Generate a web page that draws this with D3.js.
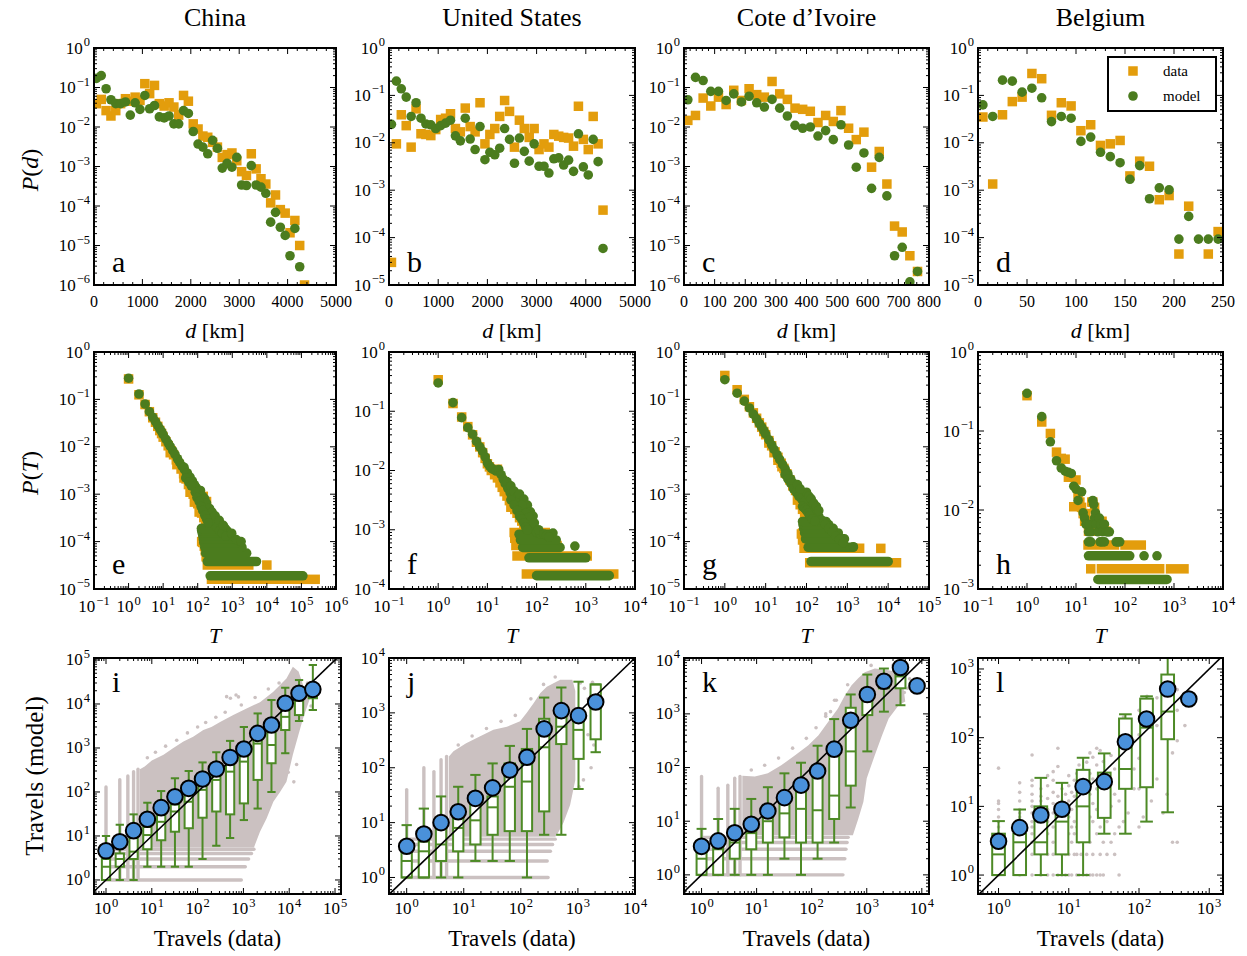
<!DOCTYPE html>
<html>
<head>
<meta charset="utf-8">
<title>Travel distance and trip distributions</title>
<script src="https://cdn.jsdelivr.net/npm/d3@7/dist/d3.min.js"></script>
<style>
  body { margin: 0; background: #fff; }
  svg text { font-family: "Liberation Serif", "DejaVu Serif", serif; fill: #000; }
</style>
</head>
<body>
<svg width="1247" height="956"></svg>
<script>
// ---------- data: row 1, P(d) ----------
const countries = ["China", "United States", "Cote d\u2019Ivoire", "Belgium"];

const dist100km = [50,150,250,350,450,550,650,750,850,950,1050,1150,1250,1350,1450,1550,1650,1750,1850,1950,2050,2150,2250,2350,2450,2550,2650,2750,2850,2950,3050,3150,3250,3350,3450,3550,3650,3750,3850,3950,4050,4150,4250,4350];
const dist25km = [12.5,37.5,62.5,87.5,112.5,137.5,162.5,187.5,212.5,237.5,262.5,287.5,312.5,337.5,362.5,387.5,412.5,437.5,462.5,487.5,512.5,537.5,562.5,587.5,612.5,637.5,662.5,687.5,712.5,737.5,762.5];
const dist10km = [5,15,25,35,45,55,65,75,85,95,105,115,125,135,145,155,165,175,185,195,205,215,225,235,245];

const pdChinaData = [0.039,0.05,0.026,0.019,0.026,0.039,0.052,0.045,0.057,0.047,0.125,0.07,0.113,0.039,0.034,0.041,0.032,0.02,0.063,0.045,0.012,0.0089,0.0059,0.0055,0.0041,0.0031,0.0017,0.002,0.0022,0.0014,0.00074,0.00059,0.0021,0.00087,0.00049,0.00036,0.00012,0.00019,8.1e-5,6.6e-5,2.1e-5,4.3e-5,1.0e-5,1.0e-6];
const pdChinaModel = [0.17,0.2,0.093,0.049,0.039,0.039,0.043,0.02,0.041,0.028,0.063,0.029,0.035,0.018,0.017,0.019,0.012,0.012,0.026,0.022,0.0077,0.0037,0.0031,0.0021,0.0046,0.0029,0.00091,0.0012,0.00096,0.0017,0.00034,0.00033,0.00105,0.00034,0.0003,0.00021,3.9e-5,6.9e-5,2.9e-5,1.8e-5,5.5e-6,2.7e-5,2.9e-6,null];
const pdUSData = [3.0e-5,0.0095,0.039,0.023,0.0081,0.052,0.0155,0.015,0.0142,0.019,0.031,0.033,0.041,0.02,0.017,0.054,0.022,0.017,0.07,0.0095,0.015,0.02,0.036,0.078,0.046,0.0081,0.03,0.02,0.013,0.02,0.0072,0.0095,0.0081,0.015,0.0138,0.013,0.0126,0.0085,0.059,0.0118,0.0072,0.036,0.0095,0.00038];
const pdUSModel = [0.0245,0.2,0.138,0.092,0.036,0.07,0.033,0.025,0.024,0.02,0.023,0.026,0.03,0.014,0.011,0.033,0.012,0.0072,0.022,0.0044,0.0063,0.0056,0.0077,0.02,0.0118,0.0037,0.0126,0.0066,0.0041,0.0095,0.0032,0.0032,0.0023,0.0046,0.0048,0.0034,0.0043,0.0025,0.0155,0.0031,0.0021,0.0118,0.004,5.9e-5];
const pdCIVData = [0.0147,0.0196,0.054,0.034,0.057,0.037,0.085,0.047,0.093,0.066,0.057,0.142,0.069,0.05,0.03,0.028,0.025,0.013,0.0196,0.0138,0.026,0.0093,0.0048,0.0074,0.00096,0.0024,0.00036,3.1e-5,2.2e-5,5.5e-6,2.2e-6];
const pdCIVModel = [0.049,0.18,0.15,0.08,0.08,0.047,0.069,0.043,0.06,0.041,0.032,0.05,0.03,0.019,0.011,0.0093,0.01,0.0059,0.0081,0.0048,0.0114,0.0035,0.00096,0.0022,0.00028,0.0017,0.00018,5.5e-6,9e-6,1.2e-6,2.2e-6];
const pdBEData = [0.035,0.00135,0.039,0.074,0.092,0.29,0.225,0.038,0.07,0.06,0.018,0.024,0.0088,0.0095,0.0112,0.002,0.0041,0.0032,0.00063,0.00077,4.5e-5,0.00046,null,4.5e-5,0.000134];
const pdBEModel = [0.063,0.036,0.21,0.2,0.117,0.142,0.089,0.028,0.036,0.033,0.0107,0.0132,0.0063,0.0051,0.0038,0.0017,0.0033,0.00066,0.00112,0.00102,9.3e-5,0.00028,9.3e-5,9.3e-5,9.3e-5];

// ---------- data: row 2, P(T) ----------
// single points [T, P]; rows of equal count [P, Tfirst, Tlast] (markers overlapping into a band)
const pTChinaData = [[1,0.27],[2,0.125],[3,0.078],[4,0.055],[5,0.041],[6,0.033],[7,0.027],[8,0.022],[9,0.019],[10,0.016],[12,0.0128],[14,0.0105],[17,0.0083],[20,0.0068],[24,0.0053],[28,0.0043],[33,0.0034],[39,0.0027],[46,0.0021],[54,0.0016],[63,0.0013],[74,0.001],[86,0.0008],[100,0.00063],[115,0.0005],[130,0.0004],[150,0.00032],[170,0.00026],[190,0.00021],[210,0.00017],[16,0.0075],[25,0.0042],[40,0.0022],[60,0.0011],[80,0.00068],[110,0.00042],[130,0.0001],[145,0.0009],[180,0.0007],[230,0.0004],[1e4,3.2e-5]];
const pTChinaModel = [[1,0.28],[2,0.13],[3,0.08],[4,0.055],[5,0.042],[6,0.034],[7,0.028],[8,0.024],[9,0.021],[10,0.018],[12,0.0145],[14,0.012],[16,0.0102],[19,0.0083],[22,0.0069],[26,0.0056],[30,0.0047],[35,0.0039],[41,0.0033],[48,0.0027],[56,0.0022],[65,0.0018],[75,0.0015],[88,0.0012],[100,0.001],[115,0.0009],[130,0.00075],[150,0.0006],[170,0.00048],[200,0.00038],[240,0.0003],[290,0.00024],[350,0.0002],[430,0.00017],[520,0.00015],[650,0.00013],[960,0.00015],[1300,0.00011],[1800,0.0001],[40,0.0037],[50,0.0028],[60,0.0023],[70,0.0019],[80,0.0016],[90,0.0014],[110,0.0011],[120,0.0012],[140,0.0009],[160,0.0008],[180,0.00065],[220,0.0005],[260,0.00042],[320,0.00035],[420,0.00028],[550,0.00022],[45,0.0022],[55,0.0018],[65,0.0015],[85,0.0011],[95,0.00085],[110,0.0007],[125,0.00055],[140,0.00045],[160,0.00036],[180,0.0003],[200,0.00025]];
const rowsChinaData = [[1.6e-5,250,5.5e4],[1.6e-5,7.5e4,2.5e5],[3.2e-5,190,3000],[4.8e-5,175,1600],[6.4e-5,165,1000],[8e-5,155,700],[9.6e-5,140,500]];
const rowsChinaModel = [[1.9e-5,230,1.1e5],[3.8e-5,190,5000],[5.7e-5,170,2600],[7.6e-5,160,1900],[9.5e-5,150,1400],[1.14e-4,145,1100],[1.33e-4,140,900],[1.52e-4,135,800],[1.71e-4,130,700],[1.9e-4,128,620]];

const pTUSData = [[1,0.34],[2,0.135],[3,0.08],[4,0.055],[5,0.04],[6,0.03],[7,0.025],[8,0.02],[9,0.016],[10,0.013],[11,0.0115],[12,0.01],[14,0.0085],[16,0.0075],[18,0.0062],[20,0.0052],[22,0.0044],[25,0.0037],[28,0.0031],[32,0.0026],[36,0.0022],[40,0.0019],[45,0.0016],[50,0.0014],[55,0.0012],[60,0.0011],[70,0.001],[80,0.00095],[16,0.0105],[20,0.0068],[26,0.0045],[30,0.0024]];
const pTUSModel = [[1,0.3],[2,0.14],[3,0.078],[4,0.053],[5,0.041],[6,0.031],[7,0.025],[8,0.021],[9,0.017],[10,0.0135],[11,0.012],[12,0.011],[13,0.0105],[15,0.0098],[17,0.0104],[19,0.0085],[21,0.0071],[23,0.006],[26,0.005],[29,0.0042],[32,0.0036],[36,0.003],[40,0.0026],[45,0.0022],[50,0.0019],[56,0.0016],[63,0.0014],[70,0.0012],[80,0.0011],[90,0.001],[100,0.0009],[120,0.00085],[215,0.00088],[600,0.00053],[25,0.0065],[30,0.0055],[35,0.0045],[40,0.0036],[45,0.004],[55,0.0033],[65,0.0026],[75,0.002],[85,0.0017],[50,0.0026],[60,0.0019],[70,0.0016],[30,0.0032],[35,0.0026],[40,0.0021],[45,0.0017],[50,0.0015],[55,0.0013],[60,0.0011],[65,0.001],[90,0.0013],[110,0.001],[140,0.00085],[160,0.0008],[180,0.00075]];
const rowsUSData = [[1.8e-4,62,3700],[3.6e-4,40,1070],[5.4e-4,38,260],[7.2e-4,36,200],[9e-4,35,150]];
const rowsUSModel = [[1.68e-4,100,3000],[3.36e-4,70,1000],[5.04e-4,52,300],[6.72e-4,47,250],[8.4e-4,44,190]];

const pTCIVData = [[1,0.32],[2,0.16],[3,0.1],[4,0.07],[5,0.052],[6,0.04],[7,0.032],[8,0.026],[9,0.021],[10,0.018],[12,0.0135],[14,0.0105],[17,0.0078],[20,0.006],[24,0.0045],[28,0.0035],[33,0.0027],[39,0.002],[46,0.0015],[54,0.0012],[63,0.0009],[74,0.0007],[86,0.00055],[100,0.00045],[115,0.00036],[130,0.0003],[12,0.012],[16,0.0075],[20,0.0052],[25,0.0038],[30,0.0028],[60,0.00075],[70,0.0006],[80,0.00048],[90,0.0004],[100,0.00035],[85,0.00012],[80,0.00015],[6600,7.2e-5]];
const pTCIVModel = [[1,0.26],[2,0.135],[3,0.092],[4,0.066],[5,0.049],[6,0.039],[7,0.031],[8,0.026],[9,0.022],[10,0.0185],[12,0.014],[14,0.011],[16,0.0088],[19,0.0068],[22,0.0054],[26,0.0042],[30,0.0034],[35,0.0027],[41,0.0021],[48,0.0017],[56,0.0014],[65,0.0012],[75,0.0011],[88,0.00095],[100,0.0008],[115,0.00068],[130,0.00058],[150,0.00048],[175,0.0004],[200,0.00034],[240,0.00028],[290,0.00023],[350,0.00019],[430,0.00016],[520,0.00013],[640,0.00011],[800,9.5e-5],[1400,7.8e-5],[30,0.0026],[35,0.0021],[41,0.0017],[48,0.0013],[56,0.0011],[65,0.0009],[75,0.0008],[88,0.0007],[100,0.0011],[115,0.0009],[130,0.0008],[150,0.00065],[175,0.00055],[200,0.00045],[60,0.0016],[70,0.0013],[80,0.00055],[90,0.0005],[100,0.00045],[110,0.0004],[120,0.00035],[140,0.0003],[160,0.00027]];
const rowsCIVData = [[3.6e-5,120,16000],[7.2e-5,87,2000],[1.08e-4,80,600],[1.44e-4,75,400]];
const rowsCIVModel = [[3.8e-5,130,1e4],[7.6e-5,110,1400],[1.14e-4,95,850],[1.52e-4,90,600],[1.9e-4,85,450],[2.28e-4,82,350],[2.66e-4,80,300]];

const pTBEData = [[1,0.28],[2,0.13],[3,0.093],[4,0.054],[5,0.045],[6,0.044],[7,0.026],[8,0.026],[9,0.011],[10,0.024],[11,0.016],[12,0.0126],[13,0.0108],[14,0.009],[15,0.0072],[16,0.009],[17,0.0072],[18,0.0054],[20,0.0072],[21,0.0126],[22,0.0126],[24,0.0108],[26,0.0072],[28,0.0054],[30,0.0054],[34,0.0072],[38,0.0054],[41,0.0054],[20,0.0018],[19,0.0054],[22,0.0054],[24,0.0054],[26,0.0054],[32,0.0054],[36,0.0054]];
const pTBEModel = [[1,0.30],[2,0.152],[3,0.073],[4,0.042],[5,0.034],[6,0.031],[7,0.030],[8,0.029],[9,0.020],[10,0.0184],[11,0.0132],[13,0.017],[14,0.0092],[15,0.0079],[16,0.0066],[17,0.0066],[18,0.0053],[19,0.0066],[20,0.0053],[22,0.0132],[23,0.0118],[24,0.0079],[25,0.0092],[26,0.0066],[28,0.0053],[30,0.0079],[32,0.0066],[35,0.0053],[38,0.0066],[42,0.0053],[45,0.0053],[48,0.0053],[18,0.00395],[20,0.00395],[31,0.00395],[34,0.00395],[38,0.00395],[66,0.00395],[72,0.00395],[78,0.00395],[245,0.00263],[450,0.00263]];
const rowsBEData = [[0.0018,33,510],[0.0018,850,1600],[0.0036,17.6,61],[0.0036,100,215]];
const rowsBEModel = [[0.00132,28,720],[0.00263,18,125]];

// ---------- data: row 3, travels model vs data ----------
const binsI = [1,2,4,8,16,32,64,128,256,512,1024,2048,4096,8192,16384,32768];
const meanI = [4.6,7.4,13.2,24,44,78,121,198,333,610,950,2150,3330,10400,17500,21500];
const lowI  = [1,1,1,2,2,2,2,3,6,9,23,42,100,760,4100,7300];
const q1I   = [1,2,3,5,8,12.5,15,26,36,31,55,188,450,2560,5600,13500];
const medI  = [2,3,4.4,10.5,21,36,60,112,188,290,490,1260,1170,5100,12000,14700];
const q3I   = [3,4,9,16,30,52,93,158,245,450,950,2050,3300,8000,16000,21000];
const highI = [10,18,31,57,105,205,300,470,800,1450,3000,6100,12300,23400,35000,77000];
const cloudI = [[5.5,5.5],[5.5,330],[7,380],[10,520],[18,700],[29,980],[49,1400],[80,1800],[133,2550],[200,3000],[310,3900],[600,5600],[1170,7900],[2300,11000],[4500,19000],[8700,38000],[12000,70000],[16000,55000],[22000,20000],[28000,13000],[20000,4700],[12000,700],[8700,170],[6300,100],[4500,60],[3200,25],[2300,12.5],[1700,5.5]];
const hStripesI = [[1,900],[2,1100],[3,1300],[4,1500],[5,1700]];
const vStripesI = [[1,130],[2,190],[3,230],[4,290],[5,330]];
const dotsI = [[430,14700],[520,13500],[690,16000],[780,14500],[12600,170],[14500,420],[9500,280],
  [8,600],[12,800],[20,1100],[35,1500],[60,2200],[100,3000],[150,3800],[250,5000],[400,6500],[900,9500],[1800,14000],[3500,22000],[6000,30000],[30000,9000],[25000,30000]];

const binsJ = [1,2,4,8,16,32,64,128,256,512,1024,2048];
const meanJ = [3.7,6.2,10,15.8,27.7,43,91,155,510,1100,890,1580];
const lowJ  = [1,1,1,1,2,2,2,1,6,6,41,192];
const q1J   = [1,1,2,3,4,6,7,7,16,270,145,330];
const medJ  = [2,3,4,8,11,19,45,56,236,560,490,1500];
const q3J   = [3,4.5,8,13.8,24,30,120,220,780,1070,1000,3300];
const highJ = [9,18,30,45,74,120,250,510,1900,2900,3700,3300];
const cloudJ = [[5.5,5.5],[5.5,160],[6.6,200],[11,280],[19,370],[33,490],[57,560],[97,700],[127,1000],[167,1500],[220,2300],[285,3000],[490,4000],[800,4000],[900,2500],[900,60],[730,21],[560,10],[430,6],[400,5.5]];
const hStripesJ = [[1,300],[2,290],[3,330],[4,360],[5,400]];
const vStripesJ = [[1,40],[2,100],[3,85],[4,140],[5,160]];
const dotsJ = [[1100,3500],[1300,2800],[1500,1800],[1800,3600],[2000,2500],[1200,800],[1500,400],[1100,150],[1700,100],[1250,60],[2100,500],[1050,45],[1900,260],
  [8,260],[14,380],[25,520],[45,700],[80,900],[150,1800],[250,3300],[400,4500]];

const binsK = [1,2,4,8,16,32,64,128,256,512,1024,2048,4096,8192];
const meanK = [3.4,4.3,6.1,8.8,15.5,27.5,47,86,220,760,2290,4060,7300,3320];
const lowK  = [1,1,1,1,1,2,1,2,4,18,200,1100,1450,null];
const q1K   = [1,1,2,3,4,5,4,4,11,46,950,3000,3000,null];
const medK  = [2,3,4,6,10,14,17,16,30,200,1800,3500,5000,null];
const q3K   = [3,4,6,8,16,29,50,90,250,1300,2600,4200,9000,null];
const highK = [7.2,11,17,26,43,78,123,255,800,2300,5400,7000,12000,null];
const cloudK = [[5.5,5.5],[5.5,70],[9.3,68],[16,78],[28,110],[50,170],[87,260],[133,400],[200,710],[300,1260],[400,2200],[530,3400],[700,4600],[920,6000],[1400,7000],[2500,6500],[4300,5700],[5000,1700],[3800,1450],[2500,820],[1900,400],[1400,170],[1000,63],[870,23],[700,11],[560,5.5]];
const hStripesK = [[1,370],[2,400],[3,420],[4,440],[5,460]];
const vStripesK = [[1,68],[2,41],[3,47],[4,63],[5,68]];
const dotsK = [[220,1100],[180,900],[260,1800],[5500,3000],[6000,4500],[4800,2500],
  [8,90],[14,110],[25,150],[45,230],[80,350],[120,550],[180,1000],[280,1800],[450,3500],[1200,8000],[3000,8000]];

const binsL = [1,2,4,8,16,32,64,128,256,512];
const meanL = [3.1,4.9,7.5,9.1,19.4,22.9,87,187,510,365];
const lowL  = [1,1,1,1,1,4,4,6,8.2,null];
const q1L   = [1,1,2,2,3,6.8,18,19,95,null];
const medL  = [2,3,3,6,10,20,35,140,240,null];
const q3L   = [4,4,10,10,34,31,190,370,830,null];
const highL = [6.1,9,26,22,51,59,219,400,2000,null];
const dotsL = [[1,1],[1,2],[1,3],[1,4],[1,5],[1,6],[1,7],[1,9],[1,11],[1,12],[1,36],
[2,1],[2,2],[2,3],[2,4],[2,5],[2,6],[2,7],[2,8],[2,9],[2,12],[2,16],[2,22],
[3,1],[3,2],[3,3],[3,4],[3,5],[3,6],[3,8],[3,10],[3,12],[3,15],[3,20],[3,24],[3,56],
[4,1],[4,2],[4,3],[4,4],[4,5],[4,6],[4,7],[4,8],[4,10],[4,12],[4,14],[4,18],
[5,1],[5,2],[5,4],[5,6],[5,9],[5,13],[5,20],[5,28],
[6,1],[6,2],[6,3],[6,5],[6,8],[6,11],[6,16],[6,24],[6,32],
[7,1],[7,3],[7,4],[7,7],[7,10],[7,14],[7,38],[7,70],
[8,1],[8,2],[8,4],[8,5],[8,8],[8,12],[8,18],
[9,1],[9,2],[9,3],[9,6],[9,9],[9,15],
[10,1],[10,2],[10,4],[10,7],[10,12],[10,20],[10,28],
[11,1],[11,3],[11,5],[11,9],[11,16],
[12,2],[12,4],[12,6],[12,14],[12,24],
[13,1],[13,2],[13,5],[13,10],[13,30],
[14,1],[14,3],[14,8],[14,18],[14,40],
[15,2],[15,6],[15,12],[15,22],
[16,1],[16,4],[16,9],[16,16],[16,34],
[18,1],[18,2],[18,5],[18,12],[18,20],[18,44],
[20,1],[20,3],[20,7],[20,15],[20,30],[20,60],
[22,1],[22,2],[22,6],[22,11],[22,25],[22,52],
[25,1],[25,4],[25,9],[25,18],[25,40],[25,70],
[28,1],[28,2],[28,5],[28,14],[28,28],[28,65],
[31,1],[31,3],[31,8],[31,20],[31,45],
[35,2],[35,6],[35,12],[35,30],
[40,3],[40,10],[40,25],[40,55],
[45,2],[45,4],[45,15],[45,35],
[52,1],[52,5],[52,12],[52,50],[52,90],
[60,6],[60,20],[60,40],[60,120],[60,200],
[70,8],[70,25],[70,60],[70,150],
[85,18],[85,35],[85,90],
[100,5],[100,18],[100,50],[100,110],[100,250],
[115,7],[115,20],[115,40],[115,150],[115,350],
[130,30],[130,80],[130,200],[130,400],
[150,12],[150,60],[150,100],[150,300],
[180,25],[180,150],[180,380],
[220,8],[220,100],[220,300],[220,500],
[250,15],[250,200],[250,400],[250,700],
[300,3],[300,60],[300,150],[300,450],
[350,3],[350,90],[350,250],[350,500],
[450,150],[450,350],[450,450],[560,380],[600,400]];

// ---------- helpers ----------
const svg = d3.select("svg");
const defs = svg.append("defs");

const cData = "#e39d0c", cModel = "#4b7c1e", cBox = "#4d8a26", cMean = "#4a91da", cGray = "#cbc1c1";
const colX  = [[94, 336], [389, 635], [684, 929], [978, 1223]];
const colX3 = [[94, 341], [389, 635], [684, 929], [978, 1223]];
const rowY  = [[48, 285], [352, 589], [658, 894]];

function logTicks(lo, hi) {
  const major = [], minor = [];
  for (let e = Math.floor(Math.log10(lo)); e <= Math.ceil(Math.log10(hi)); e++) {
    const v = Math.pow(10, e);
    if (v >= lo * 0.999 && v <= hi * 1.001) major.push(v);
    for (let m = 2; m < 10; m++) if (m * v >= lo && m * v <= hi) minor.push(m * v);
  }
  return {major, minor};
}
function linTicks(lo, hi, step) {
  const major = d3.range(lo, hi + step / 2, step);
  const minor = d3.range(lo, hi + step / 10, step / 5).filter(v => major.every(m => Math.abs(m - v) > 1e-6));
  return {major, minor};
}
function fmtPow(t, v) {
  const e = Math.round(Math.log10(v));
  t.attr("font-size", 17);
  t.append("tspan").text("10");
  t.append("tspan").attr("dx", 1).attr("dy", -7.5).attr("font-size", 12.5).text(e < 0 ? "\u2212" + (-e) : String(e));
}
function fmtNum(t, v) { t.attr("font-size", 16).text(v); }

let nClip = 0;
function makePanel(px, py, xs, ys, xT, yT, xFmt, yFmt, xLabDy) {
  const [x0, x1] = px, [y0, y1] = py;
  xs.range([x0, x1]);
  ys.range([y1, y0]);
  const id = "clip" + (nClip++);
  defs.append("clipPath").attr("id", id).append("rect")
    .attr("x", x0).attr("y", y0).attr("width", x1 - x0).attr("height", y1 - y0);
  const plot = svg.append("g").attr("clip-path", `url(#${id})`);
  const ax = svg.append("g");
  ax.append("rect").attr("x", x0).attr("y", y0).attr("width", x1 - x0).attr("height", y1 - y0)
    .attr("fill", "none").attr("stroke", "#000").attr("stroke-width", 2);
  const tick = (a, b, c, d) => ax.append("line").attr("x1", a).attr("y1", b).attr("x2", c).attr("y2", d)
    .attr("stroke", "#000").attr("stroke-width", 1);
  xT.major.forEach(v => { const p = xs(v); tick(p, y1, p, y1 - 6); tick(p, y0, p, y0 + 6); });
  xT.minor.forEach(v => { const p = xs(v); tick(p, y1, p, y1 - 3); tick(p, y0, p, y0 + 3); });
  yT.major.forEach(v => { const p = ys(v); tick(x0, p, x0 + 6, p); tick(x1, p, x1 - 6, p); });
  yT.minor.forEach(v => { const p = ys(v); tick(x0, p, x0 + 3, p); tick(x1, p, x1 - 3, p); });
  xT.major.forEach(v => {
    xFmt(ax.append("text").attr("x", xs(v)).attr("y", y1 + xLabDy).attr("text-anchor", "middle"), v);
  });
  yT.major.forEach(v => {
    yFmt(ax.append("text").attr("x", x0 - 4).attr("y", ys(v) + 5.5).attr("text-anchor", "end"), v);
  });
  return {plot, ax};
}
function letter(ax, x, y, s) {
  ax.append("text").attr("x", x).attr("y", y).attr("font-size", 30).text(s);
}
function squares(plot, pts, xs, ys, size) {
  plot.selectAll(null).data(pts).join("rect")
    .attr("x", d => xs(d[0]) - size / 2).attr("y", d => ys(d[1]) - size / 2)
    .attr("width", size).attr("height", size).attr("fill", cData);
}
function circles(plot, pts, xs, ys, r) {
  plot.selectAll(null).data(pts).join("circle")
    .attr("cx", d => xs(d[0])).attr("cy", d => ys(d[1])).attr("r", r).attr("fill", cModel);
}
function bands(plot, rows, xs, ys, color, cap, width) {
  plot.selectAll(null).data(rows).join("path")
    .attr("d", d => `M${xs(d[1])},${ys(d[0])}L${xs(d[2])},${ys(d[0])}`)
    .attr("stroke", color).attr("stroke-width", width).attr("stroke-linecap", cap).attr("fill", "none");
}

// ---------- row 1: distance distributions ----------
const row1 = [
  {dist: dist100km, data: pdChinaData, model: pdChinaModel, xDom: [0, 5000], step: 1000, yDom: [1e-6, 1], tag: "a"},
  {dist: dist100km, data: pdUSData,    model: pdUSModel,    xDom: [0, 5000], step: 1000, yDom: [1e-5, 1], tag: "b"},
  {dist: dist25km,  data: pdCIVData,   model: pdCIVModel,   xDom: [0, 800],  step: 100,  yDom: [1e-6, 1], tag: "c"},
  {dist: dist10km,  data: pdBEData,    model: pdBEModel,    xDom: [0, 250],  step: 50,   yDom: [1e-5, 1], tag: "d"}
];
row1.forEach((p, i) => {
  const xs = d3.scaleLinear().domain(p.xDom);
  const ys = d3.scaleLog().domain(p.yDom);
  const {plot, ax} = makePanel(colX[i], rowY[0], xs, ys, linTicks(p.xDom[0], p.xDom[1], p.step),
    logTicks(p.yDom[0], p.yDom[1]), fmtNum, fmtPow, 22);
  squares(plot, p.dist.map((d, k) => [d, p.data[k]]).filter(d => d[1] != null), xs, ys, 9.5);
  circles(plot, p.dist.map((d, k) => [d, p.model[k]]).filter(d => d[1] != null), xs, ys, 4.8);
  letter(ax, colX[i][0] + 18, rowY[0][1] - 13, p.tag);
  svg.append("text").attr("x", (colX[i][0] + colX[i][1]) / 2).attr("y", 26)
    .attr("text-anchor", "middle").attr("font-size", 26).text(countries[i]);
  const xl = svg.append("text").attr("x", (colX[i][0] + colX[i][1]) / 2).attr("y", 338)
    .attr("text-anchor", "middle").attr("font-size", 22);
  xl.append("tspan").attr("font-style", "italic").text("d");
  xl.append("tspan").text(" [km]");
  if (i === 3) {
    const lg = ax.append("g");
    lg.append("rect").attr("x", 1108).attr("y", 57).attr("width", 108).attr("height", 54)
      .attr("fill", "#fff").attr("stroke", "#000").attr("stroke-width", 2);
    lg.append("rect").attr("x", 1133 - 4.75).attr("y", 71 - 4.75).attr("width", 9.5).attr("height", 9.5).attr("fill", cData);
    lg.append("circle").attr("cx", 1133).attr("cy", 96).attr("r", 4.8).attr("fill", cModel);
    lg.append("text").attr("x", 1163).attr("y", 76).attr("font-size", 15).text("data");
    lg.append("text").attr("x", 1163).attr("y", 101).attr("font-size", 15).text("model");
  }
});

// ---------- row 2: trip-count distributions ----------
const row2 = [
  {data: pTChinaData, model: pTChinaModel, rowsD: rowsChinaData, rowsM: rowsChinaModel, xDom: [0.1, 1e6], yDom: [1e-5, 1], tag: "e"},
  {data: pTUSData,    model: pTUSModel,    rowsD: rowsUSData,    rowsM: rowsUSModel,    xDom: [0.1, 1e4], yDom: [1e-4, 1], tag: "f"},
  {data: pTCIVData,   model: pTCIVModel,   rowsD: rowsCIVData,   rowsM: rowsCIVModel,   xDom: [0.1, 1e5], yDom: [1e-5, 1], tag: "g"},
  {data: pTBEData,    model: pTBEModel,    rowsD: rowsBEData,    rowsM: rowsBEModel,    xDom: [0.1, 1e4], yDom: [1e-3, 1], tag: "h"}
];
row2.forEach((p, i) => {
  const xs = d3.scaleLog().domain(p.xDom);
  const ys = d3.scaleLog().domain(p.yDom);
  const {plot, ax} = makePanel(colX[i], rowY[1], xs, ys, logTicks(p.xDom[0], p.xDom[1]),
    logTicks(p.yDom[0], p.yDom[1]), fmtPow, fmtPow, 23);
  bands(plot, p.rowsD, xs, ys, cData, "square", 9.5);
  squares(plot, p.data, xs, ys, 9.5);
  bands(plot, p.rowsM, xs, ys, cModel, "round", 9.6);
  circles(plot, p.model, xs, ys, 4.8);
  letter(ax, colX[i][0] + 18, rowY[1][1] - 15, p.tag);
  svg.append("text").attr("x", (colX[i][0] + colX[i][1]) / 2).attr("y", 643)
    .attr("text-anchor", "middle").attr("font-size", 22).attr("font-style", "italic").text("T");
});

// ---------- row 3: model vs data ----------
const row3 = [
  {bins: binsI, mean: meanI, low: lowI, q1: q1I, med: medI, q3: q3I, high: highI, cloud: cloudI, hs: hStripesI, vs: vStripesI, dots: dotsI, xDom: [0.547, 1.35e5], yDom: [0.48, 1.11e5], tag: "i"},
  {bins: binsJ, mean: meanJ, low: lowJ, q1: q1J, med: medJ, q3: q3J, high: highJ, cloud: cloudJ, hs: hStripesJ, vs: vStripesJ, dots: dotsJ, xDom: [0.49, 1.0e4], yDom: [0.5, 1.0e4], tag: "j"},
  {bins: binsK, mean: meanK, low: lowK, q1: q1K, med: medK, q3: q3K, high: highK, cloud: cloudK, hs: hStripesK, vs: vStripesK, dots: dotsK, xDom: [0.48, 1.35e4], yDom: [0.44, 1.1e4], tag: "k"},
  {bins: binsL, mean: meanL, low: lowL, q1: q1L, med: medL, q3: q3L, high: highL, cloud: null, hs: [], vs: [], dots: dotsL, xDom: [0.51, 1570], yDom: [0.53, 1445], tag: "l"}
];
row3.forEach((p, i) => {
  const xs = d3.scaleLog().domain(p.xDom);
  const ys = d3.scaleLog().domain(p.yDom);
  const {plot, ax} = makePanel(colX3[i], rowY[2], xs, ys, logTicks(p.xDom[0], p.xDom[1]),
    logTicks(p.yDom[0], p.yDom[1]), fmtPow, fmtPow, 20);
  // grey cloud of individual links
  if (p.cloud) {
    plot.append("path").attr("d", d3.line().x(d => xs(d[0])).y(d => ys(d[1]))(p.cloud) + "Z").attr("fill", cGray);
  }
  plot.selectAll(null).data(p.hs).join("path")
    .attr("d", d => `M${xs(1)},${ys(d[0])}L${xs(d[1])},${ys(d[0])}`)
    .attr("stroke", cGray).attr("stroke-width", 3.4).attr("stroke-linecap", "round");
  plot.selectAll(null).data(p.vs).join("path")
    .attr("d", d => `M${xs(d[0])},${ys(1)}L${xs(d[0])},${ys(d[1])}`)
    .attr("stroke", cGray).attr("stroke-width", 3.4).attr("stroke-linecap", "round");
  plot.selectAll(null).data(p.dots).join("circle")
    .attr("cx", d => xs(d[0])).attr("cy", d => ys(d[1])).attr("r", 1.8).attr("fill", cGray);
  // box plots
  const bw = 0.6 * (xs(2) - xs(1));
  const boxes = p.bins.map((b, k) => ({b, lo: p.low[k], q1: p.q1[k], md: p.med[k], q3: p.q3[k], hi: p.high[k]}))
    .filter(d => d.lo != null);
  const bg = plot.selectAll(null).data(boxes).join("g")
    .attr("stroke", cBox).attr("stroke-width", 2).attr("fill", "none");
  bg.append("line").attr("x1", d => xs(d.b)).attr("x2", d => xs(d.b)).attr("y1", d => ys(d.lo)).attr("y2", d => ys(d.q1));
  bg.append("line").attr("x1", d => xs(d.b)).attr("x2", d => xs(d.b)).attr("y1", d => ys(d.q3)).attr("y2", d => ys(d.hi));
  bg.append("rect").attr("x", d => xs(d.b) - bw / 2).attr("width", bw)
    .attr("y", d => ys(d.q3)).attr("height", d => Math.max(0, ys(d.q1) - ys(d.q3))).attr("fill", "#fff");
  bg.append("line").attr("x1", d => xs(d.b) - bw / 2).attr("x2", d => xs(d.b) + bw / 2).attr("y1", d => ys(d.md)).attr("y2", d => ys(d.md));
  bg.append("line").attr("x1", d => xs(d.b) - bw / 2).attr("x2", d => xs(d.b) + bw / 2).attr("y1", d => ys(d.lo)).attr("y2", d => ys(d.lo));
  bg.append("line").attr("x1", d => xs(d.b) - bw / 2).attr("x2", d => xs(d.b) + bw / 2).attr("y1", d => ys(d.hi)).attr("y2", d => ys(d.hi));
  // identity line
  plot.append("line").attr("x1", xs(0.1)).attr("y1", ys(0.1)).attr("x2", xs(1e6)).attr("y2", ys(1e6))
    .attr("stroke", "#000").attr("stroke-width", 1.6);
  // averages
  plot.selectAll(null).data(p.bins.map((b, k) => [b, p.mean[k]])).join("circle")
    .attr("cx", d => xs(d[0])).attr("cy", d => ys(d[1])).attr("r", 7.8)
    .attr("fill", cMean).attr("stroke", "#000").attr("stroke-width", 2);
  letter(ax, colX3[i][0] + 18, rowY[2][0] + 34, p.tag);
  svg.append("text").attr("x", (colX3[i][0] + colX3[i][1]) / 2).attr("y", 946)
    .attr("text-anchor", "middle").attr("font-size", 23).text("Travels (data)");
});

// ---------- y-axis titles ----------
function yTitle(cx, cy, size, parts) {
  const t = svg.append("text").attr("transform", `translate(${cx},${cy}) rotate(-90)`)
    .attr("text-anchor", "middle").attr("font-size", size);
  parts.forEach(([s, it]) => t.append("tspan").attr("font-style", it ? "italic" : "normal").text(s));
}
yTitle(38, 170, 24, [["P", true], ["(", false], ["d", true], [")", false]]);
yTitle(38, 473, 24, [["P", true], ["(", false], ["T", true], [")", false]]);
yTitle(43, 776, 25, [["Travels (model)", false]]);
</script>
</body>
</html>
